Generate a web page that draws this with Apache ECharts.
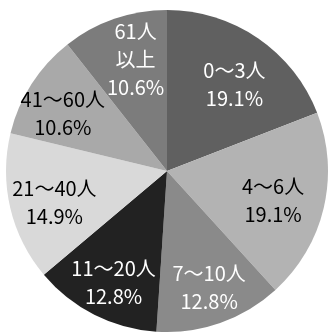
<!DOCTYPE html>
<html>
<head>
<meta charset="utf-8">
<script src="https://cdn.jsdelivr.net/npm/echarts@6/dist/echarts.min.js"></script>
<style>html,body{margin:0;padding:0;background:#fff;}#c{width:329px;height:334px;}</style>
</head>
<body>
<div id="c"></div>
<script>
var categories = ['0～3人', '4～6人', '7～10人', '11～20人', '21～40人', '41～60人', '61人\n以上'];
var values = [19.1, 19.1, 12.8, 12.8, 14.9, 10.6, 10.6];
var sliceColors = ['#606060', '#b3b3b3', '#8a8a8a', '#222222', '#d9d9d9', '#a9a9a9', '#7c7c7c'];
var labelColors = ['#ffffff', '#000000', '#ffffff', '#ffffff', '#000000', '#000000', '#ffffff'];
// label placement (style): distance from centre in px, angular nudge in degrees (clockwise)
var labelDist = [107, 107, 121, 121, 114, 116, 113];
var labelNudge = [3.4, 2.1, -0.6, -1.3, -2.5, -3.8, 3.4];

function pct(v) { return v.toFixed(1) + '%'; }

var chart = echarts.init(document.getElementById('c'), null, {renderer: 'canvas'});
var center = [167, 171];
var R = 161;

var series = [{
  type: 'pie', center: center, radius: [0, R], startAngle: 90, clockwise: true,
  silent: true, label: { show: false }, labelLine: { show: false },
  data: categories.map(function (c, i) {
    return { name: c, value: values[i], itemStyle: { color: sliceColors[i] } };
  })
}];

categories.forEach(function (cat, k) {
  series.push({
    type: 'pie', center: center, radius: [2 * labelDist[k] - R, R],
    startAngle: 90 - labelNudge[k], clockwise: true,
    silent: true, avoidLabelOverlap: false, minShowLabelAngle: 0,
    labelLayout: { hideOverlap: false },
    label: {
      show: true, position: 'inside',
      fontFamily: '"Noto Sans CJK JP", sans-serif', fontSize: 20, lineHeight: 28,
      overflow: 'none',
      formatter: function (p) { return p.name + '\n' + pct(p.value); }
    },
    labelLine: { show: false },
    data: categories.map(function (c, i) {
      return {
        name: c, value: values[i],
        itemStyle: { color: 'rgba(0,0,0,0)' },
        label: { show: i === k, color: labelColors[i] }
      };
    })
  });
});

chart.setOption({ animation: false, series: series });
</script>
</body>
</html>
